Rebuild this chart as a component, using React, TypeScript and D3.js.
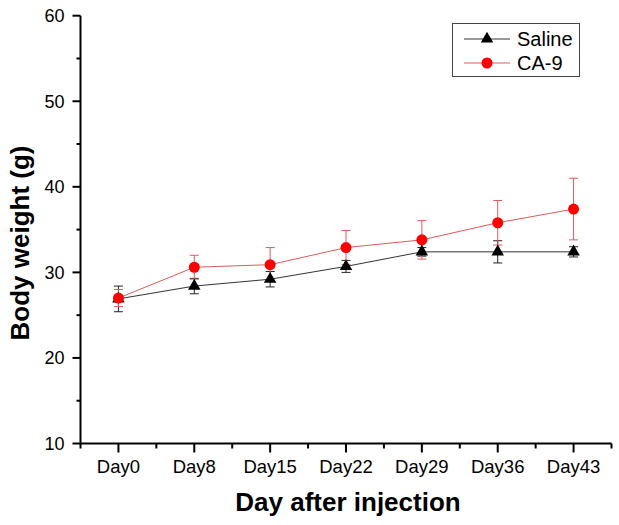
import React from "react";
import * as d3 from "d3";

const categories = ["Day0", "Day8", "Day15", "Day22", "Day29", "Day36", "Day43"];
const salineMean = [26.9, 28.4, 29.2, 30.7, 32.4, 32.4, 32.4];
const salineErr = [1.5, 0.9, 0.9, 0.7, 0.5, 1.3, 0.6];
const ca9Mean = [27.0, 30.6, 30.9, 32.9, 33.8, 35.8, 37.4];
const ca9Err = [1.0, 1.4, 2.0, 2.0, 2.25, 2.6, 3.6];
const yTicks = [10, 20, 30, 40, 50, 60];
const yMinor = [15, 25, 35, 45, 55];

const W = 619, H = 525;
const left = 80.5, right = 611.5, top = 15.7, bottom = 443.5;
const FONT = "'Liberation Sans', Arial, sans-serif";

export default function App() {
  const x = d3.scalePoint<string>().domain(categories).range([left, right]).padding(0.5);
  const y = d3.scaleLinear().domain([10, 60]).range([bottom, top]);
  const step = x.step();
  const minorX = d3.range(categories.length + 1).map(i => left + i * step);

  const line = d3.line<number>().x((_, i) => x(categories[i])!).y(d => y(d));

  const saline = "#333333";
  const ca9Line = "#e05a5a";
  const red = "#ff0000";

  const errBars = (mean: number[], err: number[], color: string) =>
    mean.map((m, i) => {
      const cx = x(categories[i])!;
      const y1 = y(m + err[i]), y2 = y(m - err[i]);
      return (
        <g key={i} stroke={color} strokeWidth={1}>
          <line x1={cx} x2={cx} y1={y1} y2={y2} />
          <line x1={cx - 4.5} x2={cx + 4.5} y1={y1} y2={y1} />
          <line x1={cx - 4.5} x2={cx + 4.5} y1={y2} y2={y2} />
        </g>
      );
    });

  const tri = d3.symbol().type(d3.symbolTriangle).size(68)()!;

  return (
    <svg width={W} height={H} style={{ position: "absolute", left: 0, top: 0 }} fontFamily={FONT}>
      <rect width={W} height={H} fill="white" />
      {/* axes */}
      <line x1={left} x2={left} y1={top} y2={bottom} stroke="#000" strokeWidth={2} />
      <line x1={left} x2={right} y1={bottom} y2={bottom} stroke="#000" strokeWidth={2} />
      {yTicks.map(t => (
        <g key={t}>
          <line x1={left - 8} x2={left} y1={y(t)} y2={y(t)} stroke="#000" strokeWidth={2} />
          <text x={left - 16} y={y(t)} dy="0.36em" textAnchor="end" fontSize={18}>{t}</text>
        </g>
      ))}
      {yMinor.map(t => (
        <line key={t} x1={left - 4} x2={left} y1={y(t)} y2={y(t)} stroke="#000" strokeWidth={2} />
      ))}
      {categories.map(c => (
        <g key={c}>
          <line x1={x(c)!} x2={x(c)!} y1={bottom} y2={bottom + 9} stroke="#000" strokeWidth={2} />
          <text x={x(c)!} y={473} textAnchor="middle" fontSize={18.5}>{c}</text>
        </g>
      ))}
      {minorX.map((mx, i) => (
        <line key={i} x1={mx} x2={mx} y1={bottom} y2={bottom + 5} stroke="#000" strokeWidth={2} />
      ))}
      <text x={348} y={511} textAnchor="middle" fontSize={26} fontWeight="bold">Day after injection</text>
      <text transform={`translate(29,243) rotate(-90)`} textAnchor="middle" fontSize={26} fontWeight="bold">Body weight (g)</text>

      {/* series */}
      {errBars(salineMean, salineErr, "#222")}
      <path d={line(salineMean)!} fill="none" stroke={saline} strokeWidth={1} />
      {errBars(ca9Mean, ca9Err, ca9Line)}
      <path d={line(ca9Mean)!} fill="none" stroke={ca9Line} strokeWidth={1} />
      {salineMean.map((m, i) => (
        <path key={i} d={tri} transform={`translate(${x(categories[i])},${y(m)})`} fill="#000" />
      ))}
      {ca9Mean.map((m, i) => (
        <circle key={i} cx={x(categories[i])} cy={y(m)} r={5.5} fill={red} />
      ))}

      {/* legend */}
      <rect x={452.5} y={23.5} width={127} height={53} fill="white" stroke="#444" strokeWidth={1} />
      <line x1={464} x2={510} y1={39} y2={39} stroke={saline} strokeWidth={1} />
      <path d={tri} transform="translate(487,39)" fill="#000" />
      <text x={517} y={39} dy="0.36em" fontSize={20}>Saline</text>
      <line x1={464} x2={510} y1={63} y2={63} stroke={ca9Line} strokeWidth={1} />
      <circle cx={487} cy={63} r={5.5} fill={red} />
      <text x={517} y={63} dy="0.36em" fontSize={20}>CA-9</text>
    </svg>
  );
}
